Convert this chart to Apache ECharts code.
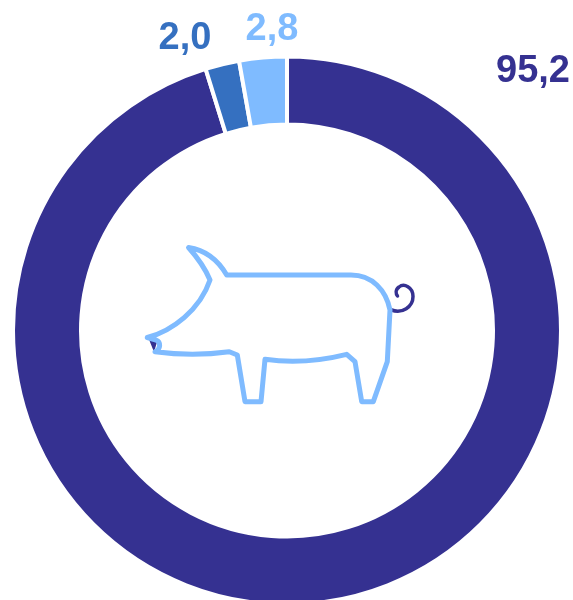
<!DOCTYPE html>
<html lang="en">
<head>
    <meta charset="UTF-8">
    <title>Pig donut</title>
    <script src="https://cdn.jsdelivr.net/npm/echarts@6/dist/echarts.min.js"></script>
    <style>
        html, body { margin: 0; padding: 0; background: #fff; }
        #chart { width: 573px; height: 600px; }
    </style>
</head>
<body>
    <div id="chart"></div>
    <script>
        var categories = ['A', 'B', 'C'];
        var values = [95.2, 2.0, 2.8];
        var tickLabels = ['95,2', '2,0', '2,8'];
        var colors = ['#353191', '#3570c0', '#7fbbff'];
        var labelPos = [[533, 72], [185, 39], [272, 30]];

        var pigBody = 'M188.5 247.5 C205 250 218 260 226.7 275 L351 275 C372 275 386 290 390 310 ' +
            'L387.3 361.7 L373.3 401.7 L361.7 401.7 L355 361.7 L346.7 354.3 C320 361 292 363 265 359.3 ' +
            'L261 401.7 L245 401.7 L237.3 355 L229.3 351.7 C205 355 180 355 155 351.7 ' +
            'C161 349 161 342 156 340 L147.3 337.5 C172 331 200 310 210 280 C205 268 197 257 188.5 247.5 Z';
        var pigTail = 'M391.5 310 C402 314 413 307 413 296.5 C413 287 404 283 399 287 C395 290 396 294 397.5 296';
        var pigNose = 'M148 337 L157 342 L154 352 Z';

        // graphic component has no plain path type, so register the pig pieces as shapes
        echarts.graphic.registerShape('pigBody', echarts.graphic.extendPath(pigBody, {}));
        echarts.graphic.registerShape('pigTail', echarts.graphic.extendPath(pigTail, {}));
        echarts.graphic.registerShape('pigNose', echarts.graphic.extendPath(pigNose, {}));

        var myChart = echarts.init(document.getElementById('chart'));
        var option = {
            animation: false,
            series: [{
                type: 'pie',
                center: [287, 330.5],
                radius: [206, 274],
                startAngle: 90,
                clockwise: true,
                silent: true,
                itemStyle: { borderColor: '#fff', borderWidth: 4 },
                labelLine: { show: false },
                label: {
                    show: true,
                    position: 'outside',
                    fontFamily: 'Liberation Sans',
                    fontWeight: 'bold',
                    fontSize: 38,
                    formatter: function (p) { return tickLabels[p.dataIndex]; }
                },
                labelLayout: function (p) {
                    return {
                        x: labelPos[p.dataIndex][0],
                        y: labelPos[p.dataIndex][1],
                        align: 'center',
                        verticalAlign: 'middle'
                    };
                },
                data: categories.map(function (c, i) {
                    return {
                        name: c,
                        value: values[i],
                        itemStyle: { color: colors[i] },
                        label: { color: colors[i] }
                    };
                })
            }],
            graphic: [
                { type: 'pigTail', style: { fill: null, stroke: colors[0], lineWidth: 3.5, lineCap: 'round' }, z: 10 },
                { type: 'pigNose', style: { fill: colors[0] }, z: 11 },
                { type: 'pigBody', style: { fill: null, stroke: colors[2], lineWidth: 5, lineJoin: 'round' }, z: 12 }
            ]
        };
        option && myChart.setOption(option);
    </script>
</body>
</html>
